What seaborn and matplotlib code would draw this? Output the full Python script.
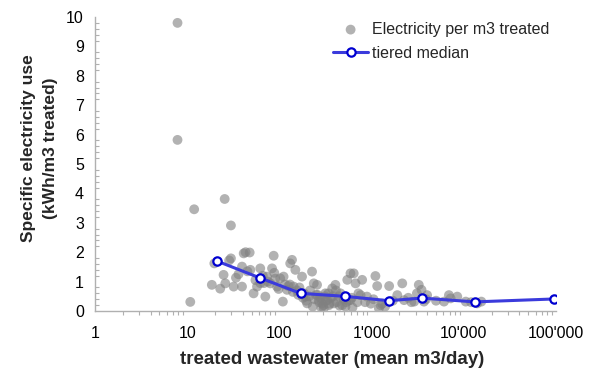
import numpy as np
import pandas as pd
import matplotlib
matplotlib.use("Agg")
import matplotlib.pyplot as plt
import matplotlib.ticker as mticker
import seaborn as sns

# scatter: treated wastewater (m3/day) vs specific electricity use (kWh/m3)
flow = [7.85, 7.85, 11.9, 10.8, 25.5, 29.8, 18.5, 19.7, 22.8, 24.8, 25.9, 29.8,
        28.5, 31.9, 33.8, 39.3, 39.3, 41, 43, 47.6, 48.4, 52.5, 57.2, 62, 70.4,
        73.4, 83.2, 86.7, 79.6, 94.4, 102, 109, 111, 121, 131, 137, 143, 149,
        176, 192, 200, 226, 236, 256, 267, 290, 303, 330, 374, 405, 390, 460,
        521, 545, 590, 640, 670, 590, 760, 790, 890, 1100, 1150, 1250, 1200,
        1550, 1900, 2150, 2250, 2900, 3250, 3480, 3700, 4000, 6100, 6900, 7200,
        8500, 10500, 14000, 15500,
        45, 55, 66, 68, 75, 90, 98, 115, 125, 140, 155, 160, 165, 180, 185,
        195, 210, 215, 240, 250, 270, 280, 300, 310, 320, 340, 350, 360, 420,
        440, 480, 500, 560, 610, 700, 720, 850, 1050, 1300, 1700, 2500, 2700,
        3100, 3900, 5000, 12000, 130, 88, 62, 36,
        230, 260, 285, 315, 345, 380, 410, 450, 530, 620, 980, 1400]
elec = [9.8, 5.82, 3.46, 0.31, 3.81, 2.91, 0.89, 1.62, 0.76, 1.23, 0.94, 1.79,
        1.72, 0.83, 1.13, 0.83, 1.51, 1.96, 2.0, 1.99, 1.40, 0.60, 0.83, 1.45,
        0.49, 1.17, 1.45, 1.88, 0.94, 0.83, 1.11, 0.32, 1.17, 0.72, 1.62, 1.74,
        0.83, 1.40, 1.17, 0.49, 0.26, 1.34, 0.94, 0.89, 0.37, 0.26, 0.09, 0.37,
        0.77, 0.89, 0.26, 0.60, 0.15, 1.06, 1.28, 1.28, 0.94, 0.37, 0.54, 1.06,
        0.49, 1.19, 0.85, 0.20, 0.09, 0.85, 0.54, 0.94, 0.37, 0.32, 0.89, 0.72,
        0.32, 0.54, 0.32, 0.54, 0.43, 0.49, 0.32, 0.26, 0.32,
        1.35, 1.05, 1.2, 0.95, 1.0, 1.1, 0.75, 0.9, 0.85, 0.65, 0.7, 0.55, 0.8,
        0.45, 0.6, 0.35, 0.5, 0.7, 0.4, 0.55, 0.3, 0.45, 0.2, 0.5, 0.35, 0.6,
        0.25, 0.45, 0.3, 0.5, 0.2, 0.4, 0.35, 0.45, 0.3, 0.6, 0.3, 0.4, 0.25,
        0.35, 0.45, 0.3, 0.6, 0.4, 0.35, 0.3, 0.9, 1.3, 0.95, 1.25,
        0.15, 0.55, 0.12, 0.6, 0.2, 0.5, 0.7, 0.18, 0.3, 0.12, 0.25, 0.15]

# tiered median
med_flow = [21, 61, 170, 510, 1540, 3500, 13200, 96000]
med_elec = [1.70, 1.13, 0.60, 0.50, 0.35, 0.44, 0.31, 0.41]

x_ticks = [1, 10, 100, 1000, 10000, 100000]
x_tick_labels = ["1", "10", "100", "1'000", "10'000", "100'000"]
y_ticks = [0, 1, 2, 3, 4, 5, 6, 7, 8, 9, 10]

sns.set_theme(style="white")
plt.rcParams['font.family'] = ['Liberation Sans', 'DejaVu Sans']

fig = plt.figure(figsize=(5.99, 3.71), dpi=100)
ax = fig.add_axes([0.1586, 0.1617, 0.7696, 0.7925])

df = pd.DataFrame({"flow": flow, "elec": elec})
mdf = pd.DataFrame({"flow": med_flow, "elec": med_elec})

sns.scatterplot(data=df, x="flow", y="elec", ax=ax, color="#808080", alpha=0.6,
                s=50, edgecolor="none", label="Electricity per m3 treated", zorder=2)
sns.lineplot(data=mdf, x="flow", y="elec", ax=ax, color="#3b3bdc", linewidth=2.2,
             marker="o", markersize=6, markerfacecolor="white",
             markeredgecolor="#0000d0", markeredgewidth=1.6,
             label="tiered median", zorder=3, sort=False, estimator=None)

ax.set_xscale("log")
ax.set_xlim(1, 100000)
ax.set_ylim(0, 10)
ax.set_xticks(x_ticks)
ax.set_xticklabels(x_tick_labels)
ax.set_yticks(y_ticks)
ax.xaxis.set_minor_locator(mticker.LogLocator(base=10, subs=np.arange(2, 10)))
ax.xaxis.set_minor_formatter(mticker.NullFormatter())
ax.yaxis.set_minor_locator(mticker.MultipleLocator(0.2))

for s in ["top", "right"]:
    ax.spines[s].set_visible(False)
for s in ["left", "bottom"]:
    ax.spines[s].set_color("#b0b0b0")
    ax.spines[s].set_linewidth(1.0)

ax.tick_params(axis="both", which="major", direction="out", length=5, width=1,
               color="#b0b0b0", labelsize=11.5, labelcolor="black")
ax.tick_params(axis="y", which="minor", direction="in", length=3, width=0.8,
               color="#b0b0b0", left=True)
ax.tick_params(axis="x", which="minor", direction="out", length=3, width=0.8,
               color="#b0b0b0", bottom=True)
ax.tick_params(axis="x", which="major", pad=6)
ax.tick_params(axis="y", which="major", pad=3)

ax.set_xlabel("treated wastewater (mean m3/day)", fontsize=13.5, fontweight="bold")
ax.xaxis.set_label_coords(0.515, -0.135)
ax.set_ylabel("Specific electricity use\n(kWh/m3 treated)", fontsize=12.5,
              fontweight="bold", linespacing=1.6)
ax.yaxis.set_label_coords(-0.08, 0.555)

leg = ax.legend(loc="upper left", frameon=False, fontsize=11.5,
                bbox_to_anchor=(0.532, 0.98), bbox_transform=fig.transFigure,
                handlelength=2.2, handletextpad=0.25, labelspacing=0.55,
                borderpad=0.4)

fig.savefig("out.png", dpi=100)
